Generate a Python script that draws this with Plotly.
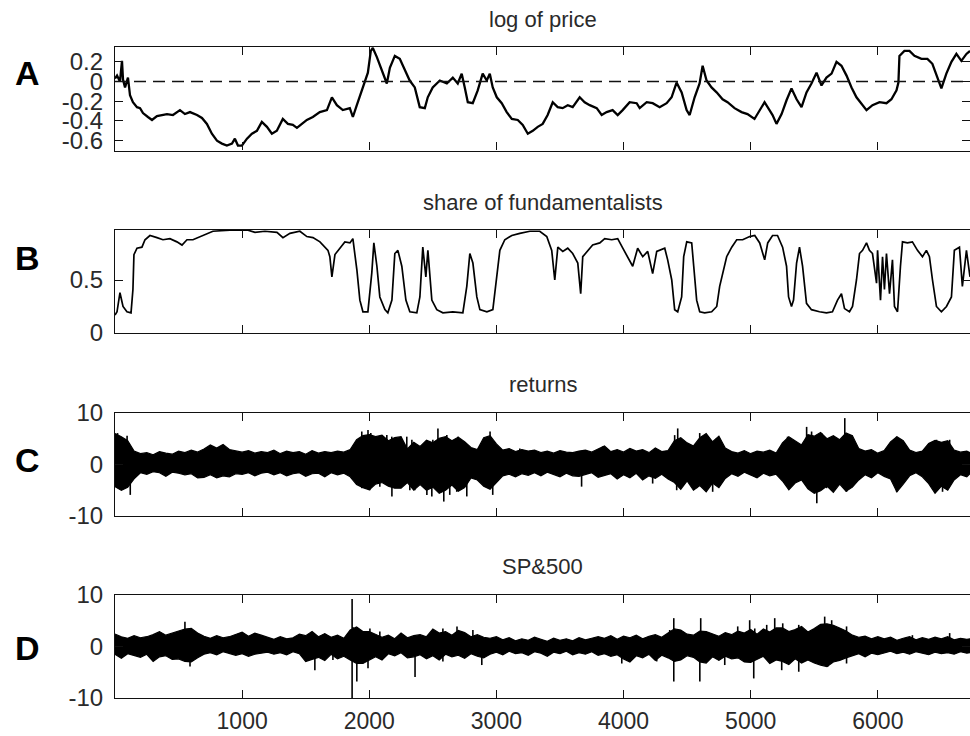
import plotly.graph_objects as go

# ---------------- data ----------------
# A: log of price
price_t = [0, 16, 39, 55, 63, 79, 102, 118, 141, 173, 197, 220, 259, 291, 330, 369, 409, 456, 511, 550,
           590, 645, 684, 723, 762, 802, 841, 880, 920, 943, 967, 998, 1038, 1077, 1116, 1155, 1195, 1234,
           1273, 1320, 1360, 1399, 1431, 1470, 1509, 1556, 1611, 1667, 1706, 1745, 1792, 1847, 1871, 1902,
           1941, 1965, 1989, 2012, 2028, 2059, 2099, 2138, 2162, 2201, 2240, 2279, 2318, 2358, 2397, 2437,
           2460, 2499, 2555, 2610, 2657, 2696, 2727, 2751, 2775, 2814, 2853, 2892, 2924, 2948, 2971, 3003,
           3042, 3081, 3121, 3168, 3207, 3247, 3286, 3325, 3364, 3403, 3443, 3482, 3521, 3561, 3600, 3655,
           3694, 3734, 3789, 3828, 3867, 3914, 3954, 3993, 4048, 4103, 4127, 4182, 4229, 4284, 4339, 4378,
           4417, 4457, 4496, 4520, 4559, 4598, 4622, 4653, 4692, 4732, 4779, 4818, 4873, 4928, 4975, 5030,
           5070, 5109, 5148, 5172, 5203, 5243, 5282, 5321, 5361, 5400, 5439, 5478, 5518, 5557, 5596, 5636,
           5675, 5714, 5754, 5793, 5832, 5871, 5911, 5958, 6013, 6068, 6107, 6147, 6162, 6170, 6209, 6249,
           6288, 6343, 6390, 6429, 6469, 6500, 6539, 6579, 6618, 6657, 6697, 6725]
price_log = [0.03, 0.06, 0.00, 0.21, 0.02, -0.06, 0.04, -0.14, -0.21, -0.26, -0.27, -0.32, -0.36, -0.39,
             -0.35, -0.34, -0.33, -0.34, -0.29, -0.33, -0.31, -0.34, -0.37, -0.43, -0.53, -0.60, -0.63,
             -0.65, -0.63, -0.58, -0.65, -0.65, -0.58, -0.53, -0.50, -0.41, -0.46, -0.53, -0.50, -0.38,
             -0.43, -0.44, -0.47, -0.43, -0.39, -0.36, -0.31, -0.29, -0.16, -0.24, -0.29, -0.27, -0.36,
             -0.24, -0.09, -0.02, 0.09, 0.31, 0.34, 0.25, 0.11, -0.02, 0.14, 0.26, 0.23, 0.11, 0.01, -0.06,
             -0.26, -0.27, -0.16, -0.06, 0.01, -0.02, 0.04, -0.02, 0.08, -0.06, -0.21, -0.22, -0.09, 0.08,
             0.01, 0.08, -0.06, -0.16, -0.22, -0.31, -0.38, -0.39, -0.44, -0.53, -0.50, -0.46, -0.43, -0.34,
             -0.21, -0.26, -0.27, -0.24, -0.26, -0.16, -0.21, -0.24, -0.27, -0.34, -0.31, -0.29, -0.34,
             -0.29, -0.21, -0.22, -0.27, -0.21, -0.22, -0.26, -0.22, -0.16, -0.01, -0.11, -0.29, -0.34,
             -0.16, -0.02, 0.16, 0.01, -0.06, -0.11, -0.18, -0.21, -0.27, -0.31, -0.33, -0.38, -0.29, -0.21,
             -0.29, -0.34, -0.43, -0.33, -0.19, -0.07, -0.18, -0.26, -0.11, -0.02, 0.09, -0.04, 0.04, 0.08,
             0.20, 0.16, 0.06, -0.06, -0.16, -0.22, -0.29, -0.24, -0.21, -0.22, -0.18, -0.09, -0.01, 0.26,
             0.31, 0.31, 0.26, 0.23, 0.23, 0.18, 0.04, -0.07, 0.08, 0.20, 0.28, 0.21, 0.28, 0.31]

# B: share of fundamentalists
share_t = [0, 16, 39, 63, 94, 126, 141, 149, 173, 212, 236, 275, 330, 377, 432, 487, 527, 566, 613, 668,
           723, 770, 904, 1046, 1101, 1179, 1274, 1321, 1376, 1454, 1509, 1557, 1612, 1635, 1675, 1690,
           1706, 1730, 1769, 1808, 1848, 1871, 1903, 1926, 1950, 1989, 2020, 2036, 2060, 2083, 2123, 2146,
           2178, 2201, 2225, 2256, 2288, 2319, 2374, 2398, 2421, 2445, 2461, 2492, 2531, 2579, 2657, 2736,
           2767, 2791, 2815, 2846, 2870, 2925, 2972, 3003, 3027, 3066, 3121, 3184, 3263, 3341, 3396, 3435,
           3459, 3483, 3522, 3561, 3600, 3640, 3663, 3679, 3718, 3757, 3813, 3852, 3907, 3954, 3994, 4033,
           4072, 4111, 4151, 4190, 4229, 4261, 4285, 4324, 4347, 4379, 4402, 4426, 4457, 4473, 4497, 4536,
           4552, 4575, 4599, 4638, 4693, 4733, 4756, 4780, 4811, 4851, 4890, 4937, 4992, 5032, 5071, 5110,
           5134, 5172, 5211, 5251, 5282, 5298, 5321, 5337, 5361, 5384, 5408, 5439, 5478, 5541, 5596, 5643,
           5683, 5714, 5738, 5777, 5801, 5832, 5856, 5880, 5911, 5934, 5958, 5990, 5998, 6021, 6037, 6052,
           6068, 6092, 6115, 6131, 6155, 6178, 6194, 6233, 6272, 6312, 6351, 6382, 6406, 6430, 6461, 6500,
           6540, 6579, 6602, 6642, 6665, 6697, 6725]
share_fund = [0.17, 0.20, 0.38, 0.25, 0.20, 0.19, 0.41, 0.74, 0.80, 0.81, 0.88, 0.92, 0.90, 0.88, 0.89,
              0.86, 0.83, 0.88, 0.88, 0.91, 0.94, 0.96, 0.97, 0.97, 0.95, 0.96, 0.95, 0.90, 0.94, 0.96,
              0.91, 0.90, 0.86, 0.83, 0.78, 0.72, 0.53, 0.74, 0.80, 0.86, 0.85, 0.89, 0.59, 0.31, 0.20,
              0.20, 0.57, 0.85, 0.63, 0.34, 0.22, 0.19, 0.31, 0.75, 0.78, 0.63, 0.31, 0.20, 0.19, 0.34,
              0.81, 0.53, 0.78, 0.31, 0.22, 0.19, 0.20, 0.19, 0.44, 0.75, 0.66, 0.34, 0.22, 0.20, 0.22,
              0.56, 0.78, 0.88, 0.92, 0.94, 0.96, 0.96, 0.91, 0.78, 0.50, 0.81, 0.77, 0.80, 0.75, 0.66,
              0.37, 0.72, 0.78, 0.83, 0.85, 0.89, 0.88, 0.89, 0.80, 0.72, 0.63, 0.80, 0.72, 0.77, 0.56,
              0.77, 0.78, 0.80, 0.69, 0.50, 0.22, 0.20, 0.34, 0.72, 0.86, 0.85, 0.63, 0.31, 0.20, 0.19,
              0.20, 0.25, 0.44, 0.56, 0.72, 0.81, 0.88, 0.88, 0.91, 0.92, 0.85, 0.69, 0.85, 0.92, 0.92,
              0.81, 0.63, 0.34, 0.25, 0.31, 0.66, 0.81, 0.63, 0.28, 0.22, 0.20, 0.19, 0.20, 0.31, 0.37,
              0.23, 0.20, 0.25, 0.50, 0.75, 0.78, 0.85, 0.78, 0.75, 0.47, 0.78, 0.31, 0.72, 0.41, 0.75,
              0.37, 0.69, 0.25, 0.20, 0.63, 0.86, 0.85, 0.86, 0.78, 0.72, 0.78, 0.72, 0.50, 0.25, 0.20,
              0.25, 0.34, 0.78, 0.81, 0.44, 0.78, 0.53]

# C / D: returns, drawn as the band between the local highs and lows of each 50-step bin
bin_t = list(range(0, 6701, 50)) + [6725]

ret_hi = [6.0, 5.4, 4.6, 2.6, 2.1, 2.3, 1.9, 2.5, 2.2, 2.0,
          2.6, 2.3, 2.8, 2.4, 3.0, 3.8, 3.2, 3.9, 2.9, 2.6,
          2.4, 2.7, 2.2, 2.5, 2.3, 2.8, 2.1, 2.6, 2.3, 2.5,
          2.0, 2.7, 2.2, 2.5, 2.3, 2.6, 2.4, 2.9, 4.8, 5.6,
          5.8, 5.4, 5.7, 4.6, 5.2, 5.4, 3.0, 4.3, 3.5, 4.7,
          4.2, 5.1, 5.4, 4.6, 5.3, 4.4, 3.3, 2.9, 5.2, 5.6,
          4.0, 2.8, 3.1, 2.5, 2.9, 2.6, 2.8, 2.3, 2.6, 2.2,
          2.7, 2.4, 2.3, 2.6, 2.8, 2.4, 3.0, 3.6, 2.5, 2.9,
          2.4, 3.1, 2.6, 2.9, 2.3, 3.2, 2.5, 2.7, 4.6, 5.2,
          4.2, 3.6, 5.2, 6.0, 4.4, 5.5, 3.2, 2.5, 2.2, 2.7,
          2.1, 2.6, 2.4, 2.8, 2.2, 4.2, 5.4, 4.6, 3.8, 5.8,
          5.5, 6.2, 5.0, 5.6, 4.8, 6.1, 5.6, 3.1, 2.6, 2.9,
          2.2, 2.7, 4.4, 5.4, 4.6, 2.8, 2.3, 2.6, 4.1, 4.7,
          4.3, 4.6, 2.8, 2.4, 2.6,
          2.3]
ret_lo = [-4.3, -5.0, -4.4, -2.8, -1.6, -1.9, -1.4, -1.6, -2.3, -1.5,
          -1.7, -2.0, -1.8, -2.6, -2.5, -2.0, -2.6, -2.2, -2.4, -1.8,
          -1.9, -1.6, -2.2, -1.7, -1.5, -2.0, -1.6, -2.2, -1.8, -1.6,
          -2.3, -1.8, -1.7, -2.4, -1.6, -2.0, -1.7, -2.4, -3.9, -4.5,
          -4.9, -3.8, -3.5, -4.2, -4.6, -4.6, -3.5, -5.0, -3.9, -5.0,
          -4.4, -5.6, -5.0, -4.0, -5.2, -4.5, -2.6, -3.0, -4.2, -4.8,
          -3.5, -2.2, -1.9, -2.4, -1.8, -2.1, -1.6, -2.2, -1.5, -2.0,
          -2.4, -1.7, -2.2, -2.3, -2.0, -1.6, -2.5, -2.2, -1.8, -2.8,
          -2.0, -2.6, -1.7, -3.0, -2.2, -2.7, -1.9, -2.8, -3.5, -4.8,
          -3.2, -5.0, -4.1, -5.3, -3.6, -4.5, -2.7, -1.8, -2.3, -1.5,
          -2.0, -2.6, -1.7, -2.2, -1.9, -3.2, -4.9, -3.6, -3.0, -4.7,
          -5.6, -5.1, -4.2, -5.4, -3.8, -5.2, -4.4, -3.0, -2.0, -2.6,
          -1.6, -2.3, -2.8, -5.3, -3.8, -2.2, -1.6, -2.4, -3.7, -5.6,
          -4.2, -5.0, -3.0, -2.0, -2.4,
          -1.8]
# isolated large returns that stick out of the band
ret_spike_t = [20, 95, 1941, 1990, 2012, 2099, 2138, 2177, 2295, 2335, 2500, 2540, 2610, 2697, 2924,
               2950, 3184, 3836, 4402, 4426, 4599, 4622, 4732, 5290, 5440, 5479, 5558, 5644, 5740, 5794,
               6148, 6462, 6565,
               120, 1941, 2004, 2083, 2178, 2319, 2358, 2453, 2492, 2586, 2633, 2688, 2767, 2908, 2971,
               3670, 4229, 4418, 4575, 4701, 5306, 5520, 5597, 5754, 6148, 6509]
ret_spike_v = [6.1, 5.6, 6.4, 6.7, 6.1, 5.4, 5.7, 5.4, 5.4, 4.8, 4.8, 7.0, 5.7, 5.4, 5.1,
               6.4, 3.1, 3.5, 5.7, 7.0, 6.1, 5.4, 5.1, 5.4, 7.3, 6.4, 6.1, 5.4, 9.0, 5.7,
               5.4, 4.8, 4.8,
               -5.9, -4.6, -5.0, -4.3, -6.2, -5.0, -5.0, -5.9, -6.2, -7.2, -5.9, -5.3, -6.2, -4.3, -5.9,
               -4.3, -3.7, -5.0, -4.6, -5.3, -4.6, -7.5, -4.6, -5.3, -5.3, -5.3]

sp_hi = [2.4, 1.9, 1.6, 2.1, 1.7, 1.9, 2.3, 2.9, 2.2, 2.6,
         3.0, 3.4, 3.5, 2.6, 2.0, 1.6, 2.1, 1.7, 1.9, 2.4,
         2.8, 2.0, 2.6, 2.2, 1.8, 1.4, 1.9, 1.5, 1.7, 2.4,
         2.1, 2.9, 1.9, 2.5, 1.8, 2.2, 1.6, 3.2, 3.8, 2.9,
         2.9, 2.4, 1.8, 2.2, 1.5, 2.6, 1.7, 2.1, 2.3, 1.9,
         3.4, 2.6, 2.9, 2.2, 3.1, 2.7, 1.9, 2.3, 1.8, 1.6,
         1.9, 1.3, 1.7, 1.1, 1.5, 1.2, 1.8, 1.4, 1.0, 1.6,
         1.2, 1.5, 1.1, 1.7, 1.3, 1.6, 1.9, 1.6, 2.1, 1.4,
         2.0, 1.7, 2.2, 1.5, 2.0, 2.3, 1.8, 2.6, 3.4, 3.2,
         2.4, 2.2, 3.0, 2.9, 2.5, 2.0, 2.7, 2.3, 3.0, 2.6,
         3.3, 2.4, 3.4, 2.8, 3.6, 3.6, 2.9, 3.3, 3.9, 2.8,
         3.5, 4.3, 4.4, 4.1, 3.6, 3.0, 2.2, 1.8, 2.0, 1.5,
         1.9, 1.5, 1.8, 1.2, 1.6, 1.9, 1.3, 1.7, 1.4, 1.8,
         1.5, 1.9, 1.3, 1.6, 1.4,
         1.5]
sp_lo = [-1.5, -2.3, -1.4, -1.8, -2.1, -1.5, -2.9, -2.0, -1.8, -2.5,
         -2.4, -2.9, -3.0, -2.2, -1.5, -1.2, -1.6, -1.0, -1.4, -1.7,
         -1.4, -1.9, -1.5, -1.3, -1.1, -1.5, -1.2, -1.6, -1.0, -1.4,
         -2.9, -2.5, -2.1, -2.7, -1.5, -2.4, -1.9, -2.6, -3.3, -3.3,
         -2.6, -2.0, -2.6, -1.4, -1.8, -1.2, -2.2, -2.0, -1.6, -2.4,
         -1.8, -2.6, -1.5, -2.0, -1.7, -2.3, -1.4, -1.9, -2.2, -1.5,
         -1.1, -1.6, -0.9, -1.4, -1.2, -1.7, -1.0, -1.3, -1.9, -1.1,
         -1.4, -0.9, -1.6, -1.2, -1.5, -1.0, -1.7, -1.4, -1.9, -1.6,
         -2.4, -3.0, -1.8, -2.2, -1.5, -2.7, -1.7, -2.2, -2.9, -2.6,
         -1.8, -2.1, -3.0, -3.2, -2.0, -2.7, -1.9, -2.4, -2.2, -3.0,
         -3.1, -2.5, -1.9, -3.3, -2.6, -2.9, -3.5, -2.4, -3.2, -2.6,
         -3.2, -3.6, -3.9, -3.0, -2.7, -2.2, -1.8, -1.4, -2.0, -1.3,
         -1.6, -1.2, -0.9, -1.4, -1.1, -1.5, -1.0, -1.3, -1.6, -1.1,
         -1.4, -1.2, -1.5, -1.0, -1.3,
         -1.2]
sp_spike_t = [550, 1865, 1871, 2005, 2083, 2579, 2690, 2815, 4363, 4395, 4607, 4898, 4992, 5032, 5126,
              5189, 5252, 5378, 5543, 5582, 5637, 5700, 5754, 6272, 6565,
              590, 1572, 1714, 1865, 1902, 1990, 2360, 2579, 2885, 3986, 4261, 4395, 4600, 4796, 5024,
              5244, 5378, 5606, 5754]
sp_spike_v = [4.8, 9.2, 3.8, 3.5, 2.9, 3.5, 3.9, 3.2, 3.2, 5.5, 5.5, 3.9, 5.1, 3.5, 4.2,
              5.5, 4.5, 4.2, 3.9, 5.8, 5.1, 3.5, 3.9, 2.2, 2.6,
              -3.9, -4.6, -2.6, -10.0, -6.8, -4.2, -5.9, -2.9, -3.6, -3.3, -2.9, -6.8, -6.8, -3.6, -6.2,
              -4.6, -4.9, -3.9, -3.3]

# axis ticks
x_ticks = [1000, 2000, 3000, 4000, 5000, 6000]
a_ticks = [0.2, 0, -0.2, -0.4, -0.6]
a_labels = ["0.2", "0", "-0.2", "-0.4", "-0.6"]
b_ticks = [0, 0.5]
b_labels = ["0", "0.5"]
r_ticks = [-10, 0, 10]
r_labels = ["-10", "0", "10"]

panel_titles = ["log of price", "share of fundamentalists", "returns", "SP&500"]
panel_letters = ["A", "B", "C", "D"]

# ---------------- figure ----------------
W, H = 970, 736
INK = "#111111"
TXT = "#2a2a2a"
FONT = "Liberation Sans, Arial, sans-serif"

domains = [[0.7955, 0.9361], [0.5476, 0.6875], [0.2989, 0.4389], [0.0516, 0.1916]]
yranges = [[-0.70, 0.35], [0, 0.972], [-10, 10], [-10, 10]]
yticks = [(a_ticks, a_labels), (b_ticks, b_labels), (r_ticks, r_labels), (r_ticks, r_labels)]
XMAX = 6725
LEFT = 115
PLOT_W = W - LEFT

fig = go.Figure()


def spike_xy(ts, vs):
    xs, ys = [], []
    for t, v in zip(ts, vs):
        xs += [t, t, None]
        ys += [0, v, None]
    return xs, ys


fig.add_trace(go.Scatter(x=price_t, y=price_log, mode="lines", line=dict(color="black", width=2.3),
                         xaxis="x", yaxis="y"))
fig.add_trace(go.Scatter(x=share_t, y=share_fund, mode="lines", line=dict(color="black", width=1.7),
                         xaxis="x2", yaxis="y2"))

for (hi, lo, st, sv, k) in [(ret_hi, ret_lo, ret_spike_t, ret_spike_v, 3),
                             (sp_hi, sp_lo, sp_spike_t, sp_spike_v, 4)]:
    xa, ya = f"x{k}", f"y{k}"
    fig.add_trace(go.Scatter(x=bin_t, y=lo, mode="lines", line=dict(color="black", width=1.2),
                             xaxis=xa, yaxis=ya))
    fig.add_trace(go.Scatter(x=bin_t, y=hi, mode="lines", line=dict(color="black", width=1.2),
                             fill="tonexty", fillcolor="black", xaxis=xa, yaxis=ya))
    sx, sy = spike_xy(st, sv)
    fig.add_trace(go.Scatter(x=sx, y=sy, mode="lines", line=dict(color="black", width=1.6),
                             xaxis=xa, yaxis=ya))

layout = dict(
    width=W, height=H,
    margin=dict(l=LEFT, r=0, t=0, b=0, autoexpand=False),
    paper_bgcolor="white", plot_bgcolor="white",
    showlegend=False,
    font=dict(family=FONT, size=22, color=TXT),
)

for i in range(4):
    k = "" if i == 0 else str(i + 1)
    layout[f"xaxis{k}"] = dict(
        domain=[0, 1], range=[0, XMAX], anchor=f"y{k}", automargin=False,
        tickvals=x_ticks, ticks="inside", ticklen=8, tickwidth=1.2, tickcolor=INK,
        showline=True, linecolor=INK, linewidth=1.2, mirror="ticks",
        showgrid=False, zeroline=False,
        showticklabels=(i == 3), tickfont=dict(size=23, color=TXT), ticklabelstandoff=2,
    )
    tv, tt = yticks[i]
    layout[f"yaxis{k}"] = dict(
        domain=domains[i], range=yranges[i], anchor=f"x{k}", automargin=False,
        tickvals=tv, ticktext=tt, ticks="inside", ticklen=8, tickwidth=1.2, tickcolor=INK,
        showline=True, linecolor=INK, linewidth=1.2, mirror=False,
        showgrid=False, zeroline=False,
        tickfont=dict(size=24, color=TXT), ticklabelstandoff=6,
    )
    # tick marks on the right-hand side of each panel
    layout[f"yaxis{i + 5}"] = dict(
        overlaying=f"y{k}", anchor=f"x{k}", side="right", range=yranges[i], automargin=False,
        tickvals=tv, ticks="inside", ticklen=8, tickwidth=1.2, tickcolor=INK,
        showline=False, showgrid=False, zeroline=False, showticklabels=False,
    )
    fig.add_trace(go.Scatter(x=[None], y=[None], xaxis=f"x{k}", yaxis=f"y{i + 5}",
                             mode="lines", hoverinfo="skip"))

fig.update_layout(**layout)

# dashed zero reference in panel A
fig.add_shape(type="line", xref="x domain", yref="y", x0=0, x1=1, y0=0, y1=0,
              line=dict(color=INK, width=1.6, dash="12px,7px"))

# panel titles and letters
letter_y = [73, 258, 460, 648]
for i in range(4):
    top = domains[i][1]
    fig.add_annotation(text=panel_titles[i], xref="paper", yref="paper", x=0.5, y=top,
                       xanchor="center", yanchor="middle", yshift=28, showarrow=False,
                       font=dict(size=22, color=TXT, family=FONT))
    fig.add_annotation(text=f"<b>{panel_letters[i]}</b>", xref="paper", yref="paper",
                       x=(27 - LEFT) / PLOT_W, y=1 - letter_y[i] / H,
                       xanchor="center", yanchor="middle", showarrow=False,
                       font=dict(size=34, color="black", family=FONT))

fig.write_html("out.html")
